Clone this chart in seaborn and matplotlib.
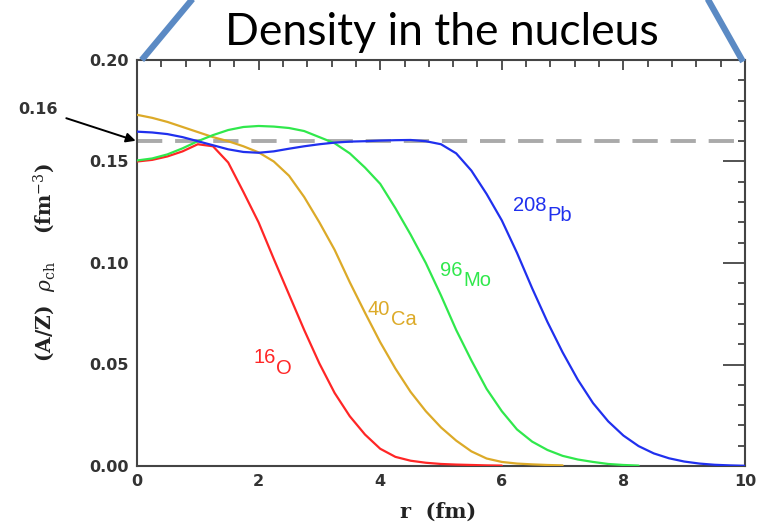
import numpy as np
import pandas as pd
import matplotlib
matplotlib.use("Agg")
import matplotlib.pyplot as plt
from matplotlib.lines import Line2D
from matplotlib.ticker import MultipleLocator, FormatStrFormatter
import seaborn as sns

# ---------------- data ----------------
r_grid = [0.0, 0.25, 0.5, 0.75, 1.0, 1.25, 1.5, 1.75, 2.0, 2.25, 2.5, 2.75,
          3.0, 3.25, 3.5, 3.75, 4.0, 4.25, 4.5, 4.75, 5.0, 5.25, 5.5, 5.75,
          6.0, 6.25, 6.5, 6.75, 7.0, 7.25, 7.5, 7.75, 8.0, 8.25, 8.5, 8.75,
          9.0, 9.25, 9.5, 9.75, 10.0]

rho_O16 = [0.1500, 0.1508, 0.1525, 0.1550, 0.1585, 0.1575, 0.1495, 0.1350,
           0.1200, 0.1020, 0.0845, 0.0670, 0.0505, 0.0360, 0.0245, 0.0155,
           0.0085, 0.0045, 0.0026, 0.0016, 0.0010, 0.0007, 0.0005, 0.0003,
           0.0002]

rho_Ca40 = [0.1730, 0.1715, 0.1695, 0.1670, 0.1645, 0.1620, 0.1600, 0.1575,
            0.1545, 0.1500, 0.1430, 0.1325, 0.1200, 0.1065, 0.0905, 0.0755,
            0.0610, 0.0480, 0.0365, 0.0270, 0.0190, 0.0125, 0.0072, 0.0037,
            0.0020, 0.0012, 0.0008, 0.0005, 0.0003]

rho_Mo96 = [0.1505, 0.1515, 0.1535, 0.1565, 0.1600, 0.1630, 0.1655, 0.1670,
            0.1675, 0.1672, 0.1665, 0.1650, 0.1620, 0.1590, 0.1540, 0.1470,
            0.1390, 0.1270, 0.1140, 0.1000, 0.0840, 0.0670, 0.0520, 0.0380,
            0.0270, 0.0180, 0.0120, 0.0079, 0.0050, 0.0032, 0.0020, 0.0010,
            0.0005, 0.0002]

rho_Pb208 = [0.1647, 0.1643, 0.1635, 0.1620, 0.1600, 0.1580, 0.1560, 0.1547,
             0.1543, 0.1550, 0.1563, 0.1575, 0.1585, 0.1593, 0.1598, 0.1600,
             0.1603, 0.1605, 0.1606, 0.1600, 0.1585, 0.1540, 0.1455, 0.1340,
             0.1210, 0.1050, 0.0875, 0.0710, 0.0560, 0.0425, 0.0310, 0.0220,
             0.0150, 0.0098, 0.0062, 0.0038, 0.0022, 0.0012, 0.0006, 0.0003,
             0.0001]

nuclei = ["16O", "40Ca", "96Mo", "208Pb"]
series = [rho_O16, rho_Ca40, rho_Mo96, rho_Pb208]
colors = ["#ff2626", "#dcaa28", "#30e84c", "#2030ee"]
mass_numbers = ["16", "40", "96", "208"]
elements = ["O", "Ca", "Mo", "Pb"]
label_pos = [(1.91, 0.058), (3.79, 0.082), (4.99, 0.101), (6.19, 0.133)]
saturation = 0.16

rows = []
for name, vals in zip(nuclei, series):
    for r, v in zip(r_grid, vals):
        rows.append((name, r, v))
df = pd.DataFrame(rows, columns=["nucleus", "r", "rho"])

# ---------------- figure ----------------
sns.set_theme(style="white")
plt.rcParams["font.family"] = ["DejaVu Sans"]
plt.rcParams["mathtext.fontset"] = "dejavuserif"

fig = plt.figure(figsize=(7.58, 5.28), dpi=100)
ax = fig.add_axes([137 / 758, 1 - 466 / 528, 608 / 758, 406 / 528])

ax.axhline(saturation, color="#aaaaaa", lw=2.8, dashes=(6.5, 3.3), zorder=1)

sns.lineplot(data=df, x="r", y="rho", hue="nucleus", hue_order=nuclei,
             palette=dict(zip(nuclei, colors)), lw=1.6, legend=False,
             estimator=None, sort=False, ax=ax, zorder=3)

ax.set_xlim(0, 10)
ax.set_ylim(0, 0.20)
ax.xaxis.set_major_locator(MultipleLocator(2))
ax.xaxis.set_minor_locator(MultipleLocator(0.4))
ax.yaxis.set_major_locator(MultipleLocator(0.05))
ax.yaxis.set_minor_locator(MultipleLocator(0.01))
ax.yaxis.set_major_formatter(FormatStrFormatter("%.2f"))
ax.tick_params(which="both", direction="in", top=True, right=True,
               color="#444444", width=1.3)
ax.tick_params(which="major", length=7.5, labelsize=11.5, labelcolor="#333333")
ax.tick_params(axis="y", which="major", length=16, pad=6)
ax.tick_params(axis="x", which="major", pad=6)
ax.tick_params(which="minor", length=5)
for lab in ax.get_xticklabels() + ax.get_yticklabels():
    lab.set_fontweight("bold")
for s in ax.spines.values():
    s.set_color("#444444")
    s.set_linewidth(1.5)

ax.set_xlabel("r  (fm)", family="DejaVu Serif", fontweight="bold",
              fontsize=15, color="#222222")
ax.set_ylabel(r"(A/Z)  $\rho_{\rm ch}$    (fm$^{-3}$)", family="DejaVu Serif",
              fontweight="bold", fontsize=14.5, color="#222222")
ax.xaxis.set_label_coords(0.495, -0.088)
ax.yaxis.set_label_coords(-0.128, 0.502)

for num, el, (x, y), c in zip(mass_numbers, elements, label_pos, colors):
    t = ax.text(x, y, num, color=c, fontsize=14.5, family="Liberation Sans",
                va="top", ha="left")
    ax.annotate(el, xy=(1, 1), xycoords=t, xytext=(0.5, -7.5),
                textcoords="offset points", color=c, fontsize=14.5,
                family="Liberation Sans", va="top", ha="left")

ax.annotate("0.16", xy=(0, saturation), xycoords="data",
            xytext=(38, 528 - 109), textcoords="figure pixels",
            fontsize=11.5, fontweight="bold", color="#333333", ha="center",
            va="center", annotation_clip=False,
            arrowprops=dict(arrowstyle="-|>", color="black", lw=1.4,
                            shrinkA=4, shrinkB=1, mutation_scale=14))

fig.text(442 / 758, 1 - 45 / 528, "Density in the nucleus", family="Lato",
         fontsize=32, ha="center", va="baseline", color="black")

fig.add_artist(Line2D([141.7 / 758, 195 / 758], [1 - 60 / 528, 1 - (-4) / 528],
                      transform=fig.transFigure, color="#5b8ac4", lw=4.5,
                      solid_capstyle="butt"))
fig.add_artist(Line2D([743 / 758, 706 / 758], [1 - 61.7 / 528, 1 - (-4) / 528],
                      transform=fig.transFigure, color="#5b8ac4", lw=4.5,
                      solid_capstyle="butt"))

fig.savefig("out.png", dpi=100)
